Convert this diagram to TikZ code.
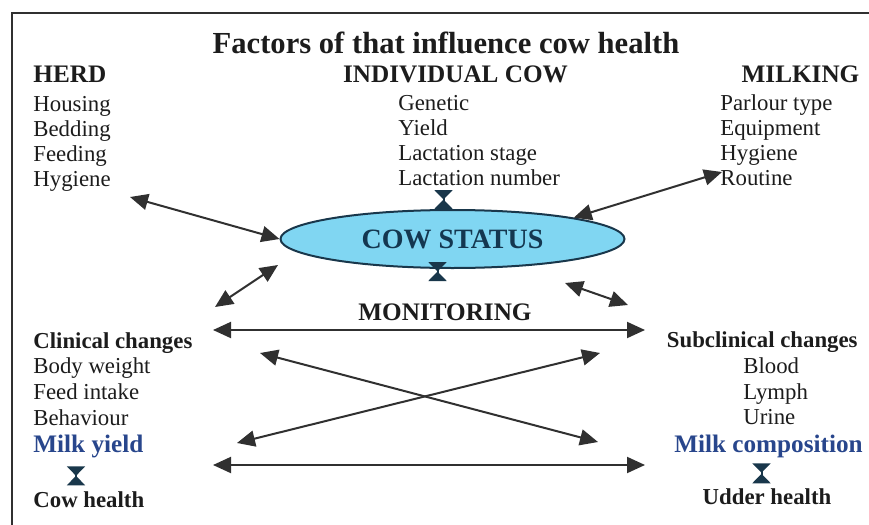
\documentclass[tikz,border=0pt]{standalone}
\usepackage{fontspec}
\setmainfont{Liberation Serif}
\usetikzlibrary{arrows.meta,shapes.geometric}
\definecolor{ink}{RGB}{28,28,28}
\definecolor{linegray}{RGB}{48,48,48}
\definecolor{labelblue}{RGB}{40,70,140}
\definecolor{statusfill}{RGB}{128,214,242}
\definecolor{statusline}{RGB}{25,55,75}
\definecolor{statustext}{RGB}{20,55,80}

\begin{document}
\begin{tikzpicture}[
  x=0.5pt, y=-0.5pt,
  every node/.style={inner sep=0pt, text=ink},
  plain/.style={anchor=base west, font=\fontsize{11.4}{13}\selectfont},
  head/.style={anchor=base, font=\fontsize{12.6}{14}\selectfont\bfseries},
  sub/.style={anchor=base west, font=\fontsize{11.4}{13}\selectfont\bfseries},
  milk/.style={anchor=base west, text=labelblue, font=\fontsize{12.6}{14}\selectfont\bfseries},
  link/.style={draw=linegray, line width=1pt,
    {Triangle[length=9pt,width=8pt]}-{Triangle[length=9pt,width=8pt]}},
  pinch/.style={draw=statusline, line width=1pt,
    {Triangle[reversed,length=4.75pt,width=9pt]}-{Triangle[reversed,length=4.75pt,width=9pt]}}
]
\useasboundingbox (0,0) rectangle (869,525);
\draw[linegray, line width=1pt] (12,525) -- (12,13) -- (869,13);

\node[font=\fontsize{15.3}{18}\selectfont\bfseries, anchor=base] (title) at (446,53)
  {Factors of that influence cow health};

\node[head, anchor=base west] (herd) at (33,82) {HERD};
\node[plain] (housing) at (33,111) {Housing};
\node[plain] (bedding) at (33,136) {Bedding};
\node[plain] (feeding) at (33,161) {Feeding};
\node[plain] (hygieneA) at (33,186) {Hygiene};

\node[head] (cow) at (455.5,82) {INDIVIDUAL COW};
\node[plain] (genetic) at (398,110) {Genetic};
\node[plain] (yield) at (398,135) {Yield};
\node[plain] (lactstage) at (398,160) {Lactation stage};
\node[plain] (lactnum) at (398,185) {Lactation number};

\node[head] (milking) at (800.5,82) {MILKING};
\node[plain] (parlour) at (720,110) {Parlour type};
\node[plain] (equipment) at (720,135) {Equipment};
\node[plain] (hygieneB) at (720,160) {Hygiene};
\node[plain] (routine) at (720,185) {Routine};

\node[ellipse, draw=statusline, line width=1pt, fill=statusfill,
  minimum width=172pt, minimum height=29pt, text=statustext,
  font=\fontsize{14}{16}\selectfont\bfseries] (status) at (452.5,239) {COW STATUS};

\node[head] (monitoring) at (445,320) {MONITORING};

\node[sub] (clinical) at (33,348) {Clinical changes};
\node[plain] (bodyweight) at (33,373) {Body weight};
\node[plain] (feedintake) at (33,399) {Feed intake};
\node[plain] (behaviour) at (33,425) {Behaviour};
\node[milk] (milkyield) at (33,452) {Milk yield};
\node[sub] (cowhealth) at (33,507) {Cow health};

\node[sub, anchor=base east] (subclinical) at (858,347) {Subclinical changes};
\node[plain] (blood) at (743,373) {Blood};
\node[plain] (lymph) at (743,399) {Lymph};
\node[plain] (urine) at (743,424) {Urine};
\node[milk, anchor=base] (milkcomp) at (768.5,452) {Milk composition};
\node[sub, anchor=base] (udder) at (767,504) {Udder health};

\coordinate (herdend) at (130,197);
\coordinate (milkingend) at (722,172);
\coordinate (leftup) at (278,265);
\coordinate (leftdown) at (215,307);
\coordinate (rightup) at (565,283);
\coordinate (rightdown) at (628,305);
\coordinate (clinicaltip) at (213,330);
\coordinate (subclinicaltip) at (645,330);
\coordinate (crossA) at (260,353);
\coordinate (crossB) at (598,442);
\coordinate (crossC) at (237,443);
\coordinate (crossD) at (600,353);
\coordinate (yieldtip) at (213,465);
\coordinate (compositiontip) at (645,465);

\draw[link] (herdend) -- (status.west);
\draw[link] (milkingend) -- (status.10);
\draw[link] (leftup) -- (leftdown);
\draw[link] (rightup) -- (rightdown);
\draw[link] (clinicaltip) -- (subclinicaltip);
\draw[link] (crossA) -- (crossB);
\draw[link] (crossC) -- (crossD);
\draw[link] (yieldtip) -- (compositiontip);

\draw[pinch] ([xshift=-4.5pt]status.north) -- ++(0,-19);
\draw[pinch] ([xshift=-7.5pt,yshift=3.5pt]status.south) -- ++(0,19);
\draw[pinch] ([xshift=21.5pt,yshift=-4.25pt]milkyield.south west) -- ++(0,19);
\draw[pinch] ([xshift=-3.5pt,yshift=-2.75pt]milkcomp.south) -- ++(0,20);
\end{tikzpicture}
\end{document}
